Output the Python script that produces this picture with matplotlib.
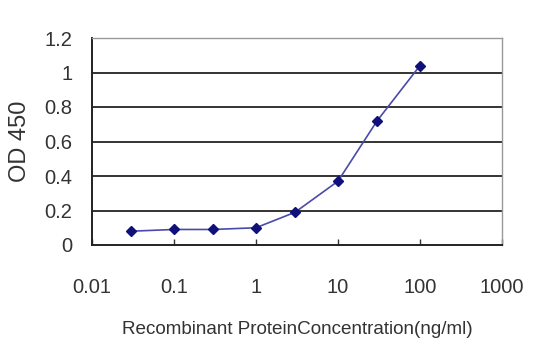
import matplotlib
matplotlib.use("Agg")
import matplotlib.pyplot as plt
from matplotlib.ticker import FixedLocator, FixedFormatter, NullLocator

plt.rcParams['font.family'] = ['Liberation Sans', 'DejaVu Sans']

conc = [0.03, 0.1, 0.3, 1, 3, 10, 30, 100]
od = [0.08, 0.09, 0.09, 0.10, 0.19, 0.37, 0.72, 1.04]
x_ticks = [0.01, 0.1, 1, 10, 100, 1000]
x_tick_labels = ["0.01", "0.1", "1", "10", "100", "1000"]
y_ticks = [0, 0.2, 0.4, 0.6, 0.8, 1.0, 1.2]
y_tick_labels = ["0", "0.2", "0.4", "0.6", "0.8", "1", "1.2"]

fig = plt.figure(figsize=(5.4, 3.6), dpi=100)
ax = fig.add_axes([92/540, 1-245/360, (502-92)/540, (245-38)/360])

ax.set_xscale('log')
ax.set_xlim(0.01, 1000)
ax.set_ylim(0, 1.2)

for y in y_ticks[1:-1]:
    ax.axhline(y, color='#333333', lw=1.4, zorder=1)

ax.plot(conc, od, color='#4a4aa8', lw=1.2, marker='D', markersize=5.5,
        markerfacecolor='#10107a', markeredgecolor='#10107a', zorder=3)

ax.xaxis.set_major_locator(FixedLocator(x_ticks))
ax.xaxis.set_major_formatter(FixedFormatter(x_tick_labels))
ax.xaxis.set_minor_locator(NullLocator())
ax.yaxis.set_major_locator(FixedLocator(y_ticks))
ax.yaxis.set_major_formatter(FixedFormatter(y_tick_labels))

ax.tick_params(axis='x', direction='in', length=4, width=1, color='#333333',
               labelsize=14.5, pad=24, labelcolor='#333333')
ax.tick_params(axis='y', length=0, labelsize=14.5, pad=14, labelcolor='#333333')

for s in ['left', 'bottom']:
    ax.spines[s].set_color('#222222')
    ax.spines[s].set_linewidth(1.4)
for s in ['top', 'right']:
    ax.spines[s].set_color('#999999')
    ax.spines[s].set_linewidth(1.0)

ax.set_xlabel("Recombinant ProteinConcentration(ng/ml)", fontsize=13.6,
              color='#333333', labelpad=17)
ax.set_ylabel("OD 450", fontsize=17, color='#333333', labelpad=10)

fig.savefig("out.png", dpi=100)
